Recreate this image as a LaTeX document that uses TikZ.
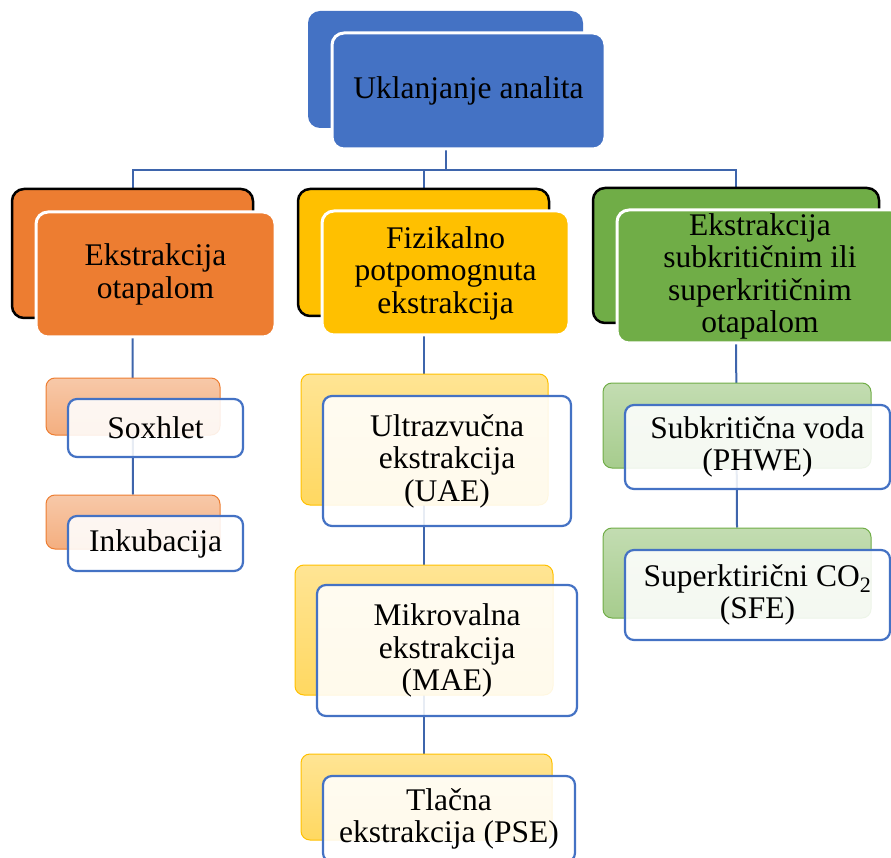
\documentclass[tikz,border=0pt]{standalone}
\usepackage{fontspec}
\setmainfont{Liberation Serif}
\usetikzlibrary{backgrounds}
\definecolor{smBlue}{HTML}{4472C4}
\definecolor{smOrange}{HTML}{ED7D31}
\definecolor{smGold}{HTML}{FFC000}
\definecolor{smGreen}{HTML}{70AD47}
\definecolor{smLine}{HTML}{3E65AC}
\begin{document}
\begin{tikzpicture}[x=1pt,y=-1pt,
    treeTxt/.style={font=\fontsize{31.5}{32.5}\selectfont,align=center,text=black,inner sep=0pt},
    topBk/.style={rectangle,rounded corners=12pt,fill=smBlue},
    topFr/.style={rectangle,rounded corners=12pt,draw=white,line width=3pt,fill=smBlue,treeTxt},
    catBk/.style={rectangle,rounded corners=12pt,draw=black,line width=2.5pt,fill=#1},
    catFr/.style={rectangle,rounded corners=12pt,draw=white,line width=3pt,fill=#1,treeTxt},
    subBk/.style={rectangle,rounded corners=9pt,draw=#1,line width=1pt,top color=#1!42,bottom color=#1!62},
    subFr/.style={rectangle,rounded corners=9pt,draw=smBlue,line width=2.2pt,fill=white,fill opacity=0.88,text opacity=1,treeTxt},
    treeLn/.style={draw=smLine,line width=2pt},
]
\clip (0,0) rectangle (891,858);
\useasboundingbox (0,0) rectangle (891,858);
% root
\node[topBk,minimum width=275pt,minimum height=117pt] (rootB) at (445.5,69.5) {};
\node[topFr,minimum width=273pt,minimum height=116pt] (rootF) at (468.5,91) {Uklanjanje analita};
% categories
\node[catBk=smOrange,minimum width=241pt,minimum height=129pt] (solvB) at (132.5,253.5) {};
\node[catFr=smOrange,minimum width=239pt,minimum height=125pt] (solvF) at (155.5,274.5) {Ekstrakcija\\otapalom};
\node[catBk=smGold,minimum width=251pt,minimum height=127pt] (physB) at (423.5,252.5) {};
\node[catFr=smGold,minimum width=247pt,minimum height=124pt] (physF) at (445.5,273) {Fizikalno\\potpomognuta\\ekstrakcija};
\node[catBk=smGreen,minimum width=286pt,minimum height=135pt] (critB) at (736,255.5) {};
\node[catFr=smGreen,minimum width=286pt,minimum height=133pt] (critF) at (760,276.5) {Ekstrakcija\\subkritičnim ili\\superkritičnim\\otapalom};
% solvent methods
\node[subBk=smOrange,minimum width=174pt,minimum height=57pt] (soxB) at (133,406.5) {};
\node[subFr,minimum width=175pt,minimum height=58pt] (soxF) at (155.5,428) {Soxhlet};
\node[subBk=smOrange,minimum width=174pt,minimum height=54pt] (incB) at (133,522) {};
\node[subFr,minimum width=175pt,minimum height=55pt] (incF) at (155.5,543.5) {Inkubacija};
% assisted methods
\node[subBk=smGold,minimum width=247pt,minimum height=131pt] (uaeB) at (424.5,439.5) {};
\node[subFr,minimum width=248pt,minimum height=130pt] (uaeF) at (447,461) {Ultrazvučna\\ekstrakcija\\(UAE)};
\node[subBk=smGold,minimum width=258pt,minimum height=130pt] (maeB) at (424,630) {};
\node[subFr,minimum width=260pt,minimum height=131pt] (maeF) at (447,650.5) {Mikrovalna\\ekstrakcija\\(MAE)};
\node[subBk=smGold,minimum width=251pt,minimum height=86pt] (pseB) at (426.5,797) {};
\node[subFr,minimum width=252pt,minimum height=86pt] (pseF) at (449,819) {Tlačna\\ekstrakcija (PSE)};
% critical fluid methods
\node[subBk=smGreen,minimum width=268pt,minimum height=85pt] (phweB) at (737,425.5) {};
\node[subFr,minimum width=265pt,minimum height=84pt] (phweF) at (757.5,447) {Subkritična voda\\(PHWE)};
\node[subBk=smGreen,minimum width=268pt,minimum height=90pt] (sfeB) at (737,573) {};
\node[subFr,minimum width=265pt,minimum height=90pt] (sfeF) at (757.5,595) {Superktirični CO\textsubscript{2}\\(SFE)};
% connectors
\begin{scope}[on background layer]
\coordinate (hub) at (445.5,170);
\draw[treeLn] (rootB.south) -- (hub);
\draw[treeLn] (hub) -| (solvB.north);
\draw[treeLn] (hub) -| (physB.north);
\draw[treeLn] (hub) -| (critB.north);
\draw[treeLn] (solvB.south) -- (incB.north);
\draw[treeLn] (physB.south) -- (physB.south |- pseB.north);
\draw[treeLn] (critB.south) -- (sfeB.north);
\end{scope}
\end{tikzpicture}
\end{document}
